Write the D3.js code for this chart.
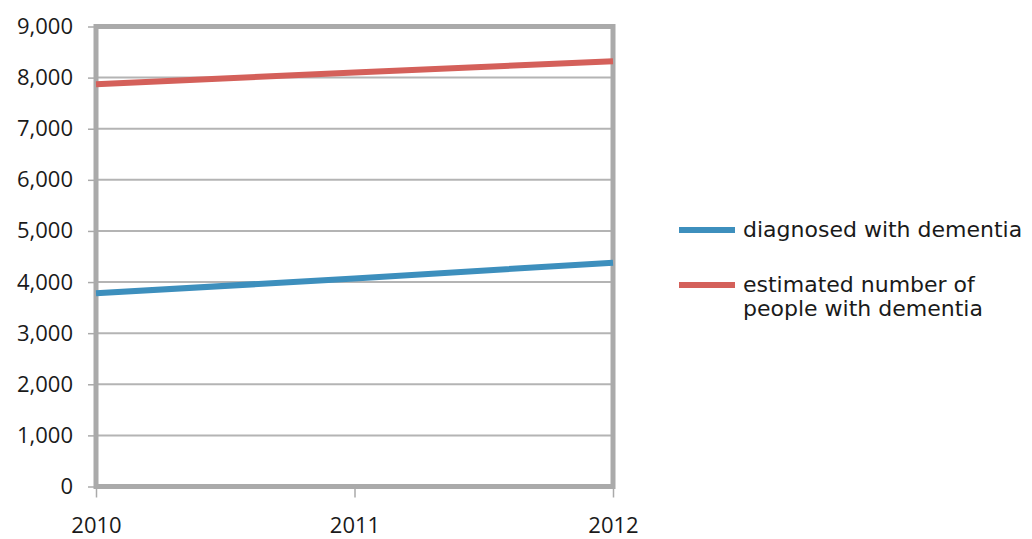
<!DOCTYPE html>
<html>
<head>
<meta charset="UTF-8">
<style>
  body { margin: 0; background: white; }
  svg { display: block; font-family: 'Open Sans', sans-serif; }
</style>
</head>
<body>
<svg id="chart" width="1032" height="539"></svg>
<script src="https://d3js.org/d3.v7.min.js"></script>
<script>
  // data
  const years = [2010, 2011, 2012];
  const diagnosed = [3780, 4070, 4380];
  const estimated = [7870, 8100, 8320];
  const yTicks = [0, 1000, 2000, 3000, 4000, 5000, 6000, 7000, 8000, 9000];
  const seriesNames = ["diagnosed with dementia", "estimated number of|people with dementia"];
  const seriesColors = ["#3d8fbd", "#d4605a"];

  const svg = d3.select("#chart");
  const plotL = 96, plotR = 613, plotT = 26.5, plotB = 486.5;

  const x = d3.scalePoint().domain(years).range([plotL, plotR]);
  const y = d3.scaleLinear().domain([0, 9000]).range([plotB, plotT]);

  // gridlines
  svg.append("g")
    .selectAll("line")
    .data(yTicks.filter(d => d > 0 && d < 9000))
    .enter().append("line")
    .attr("x1", plotL).attr("x2", plotR)
    .attr("y1", d => y(d)).attr("y2", d => y(d))
    .attr("stroke", "#b4b4b4").attr("stroke-width", 2);

  // y axis ticks + labels
  const yAxis = svg.append("g").attr("transform", "translate(" + plotL + ",0)")
    .call(d3.axisLeft(y).tickValues(yTicks).tickSize(8).tickPadding(15).tickFormat(d3.format(",")));
  yAxis.select(".domain").remove();
  yAxis.selectAll(".tick line").attr("stroke", "#aaaaaa").attr("stroke-width", 1.5);
  yAxis.selectAll(".tick text").attr("font-size", 22).attr("fill", "#1a1a1a").attr("font-family", "'Open Sans', sans-serif");

  // x axis ticks + labels
  const xAxis = svg.append("g").attr("transform", "translate(0," + plotB + ")")
    .call(d3.axisBottom(x).tickSize(11).tickPadding(20));
  xAxis.select(".domain").remove();
  xAxis.selectAll(".tick line").attr("stroke", "#aaaaaa").attr("stroke-width", 1.5);
  xAxis.selectAll(".tick text").attr("font-size", 22).attr("fill", "#1a1a1a").attr("font-family", "'Open Sans', sans-serif");

  // plot frame
  svg.append("rect")
    .attr("x", plotL).attr("y", plotT)
    .attr("width", plotR - plotL).attr("height", plotB - plotT)
    .attr("fill", "none").attr("stroke", "#aaaaaa").attr("stroke-width", 5);

  // lines
  const line = d3.line().x((d, i) => x(years[i])).y(d => y(d));
  [diagnosed, estimated].forEach((s, i) => {
    svg.append("path")
      .datum(s)
      .attr("d", line)
      .attr("fill", "none")
      .attr("stroke", seriesColors[i])
      .attr("stroke-width", 6);
  });

  // legend
  const legendY = [230, 285];
  const lg = svg.append("g");
  seriesNames.forEach((name, i) => {
    lg.append("line")
      .attr("x1", 679).attr("x2", 735)
      .attr("y1", legendY[i]).attr("y2", legendY[i])
      .attr("stroke", seriesColors[i]).attr("stroke-width", 6);
    name.split("|").forEach((part, j) => {
      lg.append("text")
        .attr("x", 743).attr("y", legendY[i] + 7 + j * 24)
        .attr("font-family", "'DejaVu Sans', sans-serif")
        .attr("font-size", 22).attr("fill", "#1a1a1a")
        .text(part);
    });
  });
</script>
</body>
</html>
